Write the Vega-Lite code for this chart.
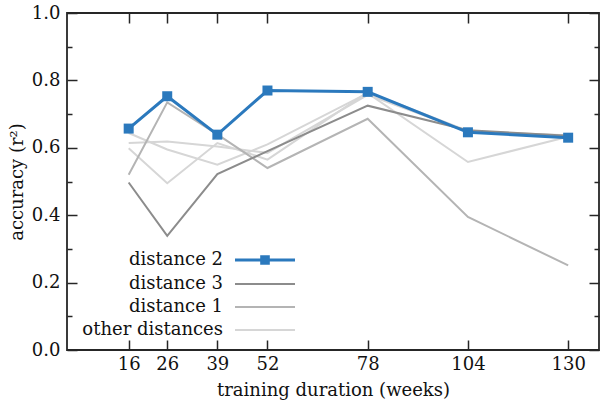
{
  "$schema": "https://vega.github.io/schema/vega-lite/v6.json",
  "width": 532,
  "height": 337,
  "autosize": {"type": "none"},
  "padding": {"left": 67, "top": 13, "right": 1, "bottom": 52},
  "background": "white",
  "config": {
    "font": "DejaVu Serif",
    "view": {"stroke": "#262626", "strokeWidth": 1.8},
    "axis": {
      "domain": false,
      "grid": false,
      "tickColor": "#262626",
      "tickWidth": 1.5,
      "labelFont": "DejaVu Serif",
      "labelFontSize": 18,
      "labelColor": "#111111",
      "titleFont": "DejaVu Serif",
      "titleFontSize": 18,
      "titleFontWeight": "normal",
      "titleColor": "#111111"
    }
  },
  "data": {
    "values": [
      {"w": 16, "acc": 0.644, "series": "other distances", "line": "o1"},
      {"w": 26, "acc": 0.595, "series": "other distances", "line": "o1"},
      {"w": 39, "acc": 0.550, "series": "other distances", "line": "o1"},
      {"w": 52, "acc": 0.610, "series": "other distances", "line": "o1"},
      {"w": 78, "acc": 0.762, "series": "other distances", "line": "o1"},
      {"w": 104, "acc": 0.558, "series": "other distances", "line": "o1"},
      {"w": 130, "acc": 0.633, "series": "other distances", "line": "o1"},
      {"w": 16, "acc": 0.614, "series": "other distances", "line": "o2"},
      {"w": 26, "acc": 0.619, "series": "other distances", "line": "o2"},
      {"w": 39, "acc": 0.604, "series": "other distances", "line": "o2"},
      {"w": 52, "acc": 0.585, "series": "other distances", "line": "o2"},
      {"w": 78, "acc": 0.757, "series": "other distances", "line": "o2"},
      {"w": 104, "acc": 0.648, "series": "other distances", "line": "o2"},
      {"w": 130, "acc": 0.637, "series": "other distances", "line": "o2"},
      {"w": 16, "acc": 0.599, "series": "other distances", "line": "o3"},
      {"w": 26, "acc": 0.495, "series": "other distances", "line": "o3"},
      {"w": 39, "acc": 0.614, "series": "other distances", "line": "o3"},
      {"w": 52, "acc": 0.565, "series": "other distances", "line": "o3"},
      {"w": 78, "acc": 0.765, "series": "other distances", "line": "o3"},
      {"w": 104, "acc": 0.650, "series": "other distances", "line": "o3"},
      {"w": 130, "acc": 0.635, "series": "other distances", "line": "o3"},
      {"w": 16, "acc": 0.520, "series": "distance 1", "line": "d1"},
      {"w": 26, "acc": 0.735, "series": "distance 1", "line": "d1"},
      {"w": 39, "acc": 0.640, "series": "distance 1", "line": "d1"},
      {"w": 52, "acc": 0.540, "series": "distance 1", "line": "d1"},
      {"w": 78, "acc": 0.686, "series": "distance 1", "line": "d1"},
      {"w": 104, "acc": 0.395, "series": "distance 1", "line": "d1"},
      {"w": 130, "acc": 0.251, "series": "distance 1", "line": "d1"},
      {"w": 16, "acc": 0.497, "series": "distance 3", "line": "d3"},
      {"w": 26, "acc": 0.339, "series": "distance 3", "line": "d3"},
      {"w": 39, "acc": 0.522, "series": "distance 3", "line": "d3"},
      {"w": 52, "acc": 0.590, "series": "distance 3", "line": "d3"},
      {"w": 78, "acc": 0.725, "series": "distance 3", "line": "d3"},
      {"w": 104, "acc": 0.652, "series": "distance 3", "line": "d3"},
      {"w": 130, "acc": 0.636, "series": "distance 3", "line": "d3"},
      {"w": 16, "acc": 0.657, "series": "distance 2", "line": "d2"},
      {"w": 26, "acc": 0.753, "series": "distance 2", "line": "d2"},
      {"w": 39, "acc": 0.639, "series": "distance 2", "line": "d2"},
      {"w": 52, "acc": 0.770, "series": "distance 2", "line": "d2"},
      {"w": 78, "acc": 0.766, "series": "distance 2", "line": "d2"},
      {"w": 104, "acc": 0.646, "series": "distance 2", "line": "d2"},
      {"w": 130, "acc": 0.630, "series": "distance 2", "line": "d2"}
    ]
  },
  "encoding": {
    "color": {
      "field": "series",
      "type": "nominal",
      "scale": {
        "domain": ["distance 2", "distance 3", "distance 1", "other distances"],
        "range": ["#2b79bd", "#8c8c8c", "#b4b4b4", "#d6d6d6"]
      },
      "legend": {
        "orient": "none",
        "legendX": 187,
        "legendY": 236,
        "title": null,
        "direction": "vertical",
        "symbolType": "M-3,0H3",
        "symbolSize": 400,
        "symbolStrokeWidth": 2,
        "labelAlign": "right",
        "labelOffset": -53,
        "labelFont": "DejaVu Serif",
        "labelFontSize": 18,
        "labelColor": "#111111",
        "rowPadding": 3,
        "padding": 0,
        "encode": {
          "symbols": {
            "update": {
              "shape": {"signal": "(datum.value === 'distance 2' ? 'M-3,0H3M-0.33,-0.33H0.33V0.33H-0.33Z' : 'M-3,0H3')"},
              "fill": {"signal": "(datum.value === 'distance 2' ? '#2b79bd' : 'transparent')"},
              "strokeWidth": {"signal": "(datum.value === 'distance 2' ? 3 : 2)"}
            }
          }
        }
      }
    }
  },
  "layer": [
    {
      "transform": [{"filter": "datum.series === 'other distances'"}],
      "mark": {"type": "line", "strokeWidth": 2},
      "encoding": {
        "x": {
          "field": "w", "type": "quantitative",
          "scale": {"domain": [0, 138], "nice": false, "zero": false},
          "axis": {"orient": "bottom", "values": [16, 26, 39, 52, 78, 104, 130], "offset": -10, "tickSize": 10, "labelPadding": 5, "title": "training duration (weeks)", "titlePadding": 8}
        },
        "y": {
          "field": "acc", "type": "quantitative",
          "scale": {"domain": [0, 1], "nice": false},
          "axis": {"orient": "left", "values": [0, 0.2, 0.4, 0.6, 0.8, 1.0], "format": ".1f", "offset": -10, "tickSize": 10, "labelPadding": 7, "title": "accuracy (r²)", "titlePadding": 5}
        },
        "detail": {"field": "line"}
      }
    },
    {
      "transform": [{"filter": "datum.series === 'distance 1' || datum.series === 'distance 3'"}],
      "mark": {"type": "line", "strokeWidth": 2},
      "encoding": {
        "x": {"field": "w", "type": "quantitative", "axis": {"orient": "top", "values": [16, 26, 39, 52, 78, 104, 130], "offset": -10, "tickSize": 10, "labels": false, "title": null}},
        "y": {"field": "acc", "type": "quantitative", "axis": {"orient": "right", "values": [0, 0.2, 0.4, 0.6, 0.8, 1.0], "offset": -10, "tickSize": 10, "labels": false, "title": null}},
        "detail": {"field": "line"}
      }
    },
    {
      "transform": [{"filter": "datum.series === 'distance 2'"}],
      "mark": {"type": "line", "strokeWidth": 3},
      "encoding": {
        "x": {"field": "w", "type": "quantitative", "axis": null},
        "y": {"field": "acc", "type": "quantitative", "axis": {"orient": "left", "values": [0.1, 0.3, 0.5, 0.7, 0.9], "offset": -5, "tickSize": 5, "labels": false, "title": null}}
      }
    },
    {
      "transform": [{"filter": "datum.series === 'distance 2'"}],
      "mark": {"type": "square", "size": 100, "filled": true, "opacity": 1},
      "encoding": {
        "x": {"field": "w", "type": "quantitative", "axis": null},
        "y": {"field": "acc", "type": "quantitative", "axis": {"orient": "right", "values": [0.1, 0.3, 0.5, 0.7, 0.9], "offset": -5, "tickSize": 5, "labels": false, "title": null}},
        "color": {"value": "#2b79bd"}
      }
    }
  ]
}
